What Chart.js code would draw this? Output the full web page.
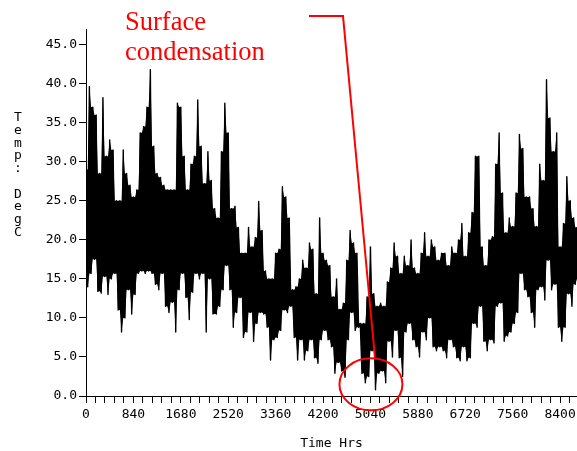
<!DOCTYPE html>
<html>
<head>
<meta charset="utf-8">
<script src="https://cdn.jsdelivr.net/npm/chart.js@4/dist/chart.umd.min.js"></script>
<style>
html,body{margin:0;padding:0;background:#fff;overflow:hidden;}
#wrap{position:relative;width:577px;height:451px;}
</style>
</head>
<body>
<div id="wrap"><canvas id="c"></canvas></div>
<script>
// ---- data ----
const stepHours = 60; // each entry = one 60-hour slice of the hourly record
const tempHigh = [
  29, 39.6, 37, 36, 28.5, 38.2, 30.7, 32.8, 31.5, 25, 25, 31.5, 28.5, 27, 25.5,
  26.4, 33.7, 34.5, 37, 41.8, 32, 28.5, 28, 27, 26.4, 26.4, 26.4, 37.5, 37,
  30.7, 26.4, 29.7, 30.7, 37.9, 32, 27.2, 31.3, 27.6, 24, 22.8, 31.3, 37.5, 33.7, 24,
  24.3, 21.6, 18.3, 18.3, 21.6, 19.1, 20.3, 24.9, 21.2, 16, 15, 15, 18.3, 18.8,
  26.8, 25.5, 22.8, 13.6, 14, 15, 17.4, 16.4, 19.6, 18.8, 13.1, 22.8, 18.3, 17.4, 16.7,
  12.7, 15, 11.1, 11.9, 17.4, 21.2, 19.6, 18.3, 9.3, 9.3, 12.7, 19.1, 13.1, 11.5,
  11.9, 11.5, 14.6, 16.4, 19.6, 17.9, 15.7, 17.9, 16.7, 20, 16.4, 15.7, 18.3, 20.9, 17.9,
  20, 19.1, 17.4, 18.3, 18.3, 16.7, 19.1, 18.3, 20, 22.1, 17.9, 20.9, 23.5, 30.7,
  30.7, 19.1, 16.7, 20, 20.4, 29.7, 33.7, 26, 20.9, 22.8, 21.7, 26, 33.5, 31.7, 25.5,
  25.5, 24, 21.7, 29.7, 27.6, 40.5, 35.6, 31.3, 33.7, 19.1, 22.1, 28.1, 25, 22.8, 21.6
];
const tempLow = [
  14, 15.7, 17.5, 13.4, 13.2, 15.3, 13, 15, 15.7, 11, 8.2, 10, 13.6, 10.5, 13,
  15.7, 16, 15.7, 16, 15.7, 14.3, 13.6, 15.7, 11.5, 10.7, 12, 8.2, 13.6, 15.7,
  12.6, 9.8, 13.3, 15.7, 15, 15.7, 8.2, 15, 10.5, 10.5, 11.5, 13.6, 16.7, 13.6, 8.8,
  10.7, 12.6, 7.5, 8.2, 10.7, 7, 9.3, 10.7, 10.5, 8.8, 4.6, 7.2, 7.5, 8.4,
  11, 10.7, 11.5, 7.5, 4.6, 7.2, 4.6, 5.8, 7.2, 4.9, 4.2, 7.2, 8.4, 7.2, 6.3,
  2.9, 4.3, 3.2, 2.4, 7.2, 10.7, 8.4, 8.8, 2.9, 1.7, 2.5, 5.8, 0.8, 2.9,
  3.2, 1.7, 7, 5, 8.4, 4.9, 2.5, 8.2, 9.3, 7.2, 6.3, 5, 8.2, 7.2, 10,
  6.3, 5.8, 6.3, 5.8, 4.9, 7.2, 6.3, 4.9, 4.5, 6.3, 4.5, 4.9, 9.3, 8.8,
  11.5, 7, 5.8, 7.2, 6.8, 11.5, 11.9, 7, 7.7, 8.2, 9.3, 10.7, 15.7, 13.6, 12.7,
  10.7, 8.8, 13.6, 14, 12.3, 17.4, 13.6, 14.3, 8.8, 7, 8.8, 13.1, 11.5, 14.3, 15
];
const xLabelHours = [0, 840, 1680, 2520, 3360, 4200, 5040, 5880, 6720, 7560, 8400];
const xMinorStep = 168;
const yTickValues = [0, 5, 10, 15, 20, 25, 30, 35, 40, 45];
const yTitleChars = ['T','e','m','p',':','','D','e','g','C'];
const xTitle = 'Time Hrs';
const noteLines = ['Surface', 'condensation'];

// ---- build series from the arrays ----
const n = tempHigh.length;
const zigzag = [];   // highs and lows alternate
const coreTop = [];  // solid body: up to the lower of two neighbouring highs
const coreBot = [];  // solid body: down to the higher of two neighbouring lows
for (let i = 0; i < n; i++) {
  const xh = i * stepHours, xl = i * stepHours + stepHours / 2;
  zigzag.push({x: xh, y: tempHigh[i]});
  zigzag.push({x: xl, y: tempLow[i]});
  coreTop.push({x: xh, y: tempHigh[i]});
  coreTop.push({x: xl, y: Math.min(tempHigh[i], tempHigh[Math.min(i + 1, n - 1)])});
  coreBot.push({x: xh, y: Math.max(tempLow[i], tempLow[Math.max(i - 1, 0)])});
  coreBot.push({x: xl, y: tempLow[i]});
}
const xTicks = [];
for (let h = 0; h <= 8600; h += xMinorStep) xTicks.push(h);

const MONO = '"DejaVu Sans Mono", "Liberation Mono", monospace';

const notePlugin = {
  id: 'note',
  afterDraw(chart) {
    const ctx = chart.ctx;
    const xs = chart.scales.x, ys = chart.scales.y;
    ctx.save();
    // stacked y-axis title
    ctx.fillStyle = '#000';
    ctx.font = '13px ' + MONO;
    ctx.textAlign = 'center';
    ctx.textBaseline = 'middle';
    yTitleChars.forEach((ch, i) => ctx.fillText(ch, 18, 118 + i * 12.7));
    // annotation
    ctx.fillStyle = '#ff0000';
    ctx.strokeStyle = '#ff0000';
    ctx.font = '26.5px "Liberation Serif", "Times New Roman", serif';
    ctx.textAlign = 'left';
    ctx.textBaseline = 'alphabetic';
    ctx.fillText(noteLines[0], 125, 30);
    ctx.fillText(noteLines[1], 125, 60);
    // ellipse around the cold period near 5040 h
    const cx = xs.getPixelForValue(5040) + 0.5;
    const cy = ys.getPixelForValue(1.5);
    ctx.lineWidth = 2;
    ctx.beginPath();
    ctx.ellipse(cx, cy, 31.5, 26, 0, 0, Math.PI * 2);
    ctx.stroke();
    // leader line
    ctx.beginPath();
    ctx.moveTo(309, 16);
    ctx.lineTo(343, 16);
    ctx.lineTo(cx + 4, cy - 27);
    ctx.stroke();
    ctx.restore();
  }
};

new Chart(document.getElementById('c'), {
  type: 'line',
  data: {
    datasets: [
      {
        data: zigzag,
        borderColor: '#000',
        borderWidth: 1.4,
        borderJoinStyle: 'round',
        pointRadius: 0,
        tension: 0,
        fill: false
      },
      {
        data: coreTop,
        borderColor: 'rgba(0,0,0,0)',
        borderWidth: 1,
        pointRadius: 0,
        tension: 0,
        fill: false
      },
      {
        data: coreBot,
        borderColor: 'rgba(0,0,0,0)',
        borderWidth: 1,
        backgroundColor: '#000',
        pointRadius: 0,
        tension: 0,
        fill: '-1'
      }
    ]
  },
  options: {
    responsive: true,
    maintainAspectRatio: false,
    animation: false,
    events: [],
    layout: {padding: {top: 29, right: 0, bottom: 0, left: 0}},
    plugins: {legend: {display: false}, tooltip: {enabled: false}},
    scales: {
      x: {
        type: 'linear',
        min: 0,
        max: 8700,
        afterBuildTicks: s => { s.ticks = xTicks.map(v => ({value: v})); },
        afterFit: s => { s.height = 55; },
        border: {display: true, color: '#000', width: 1},
        grid: {display: true, drawOnChartArea: false, drawTicks: true, tickLength: 7, color: '#000'},
        ticks: {
          autoSkip: false, maxRotation: 0, padding: 4, color: '#000',
          font: {family: MONO, size: 13},
          callback: v => xLabelHours.includes(v) ? String(v) : ''
        },
        title: {display: true, text: xTitle, color: '#000', font: {family: MONO, size: 13}, padding: {top: 9, bottom: 0}}
      },
      y: {
        min: 0,
        max: 47,
        afterBuildTicks: s => { s.ticks = yTickValues.map(v => ({value: v})); },
        afterFit: s => { s.width = 86; },
        border: {display: true, color: '#000', width: 1},
        grid: {display: true, drawOnChartArea: false, drawTicks: true, tickLength: 7, color: '#000'},
        ticks: {
          padding: 2, color: '#000',
          font: {family: MONO, size: 13},
          callback: v => Number(v).toFixed(1)
        }
      }
    }
  },
  plugins: [notePlugin]
});
</script>
</body>
</html>
